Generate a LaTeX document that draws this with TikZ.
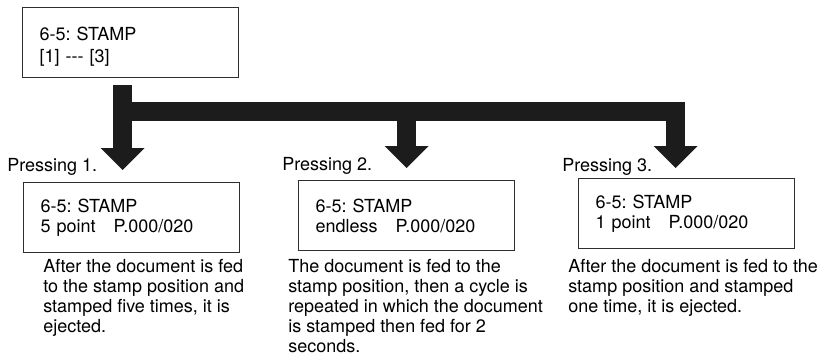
\documentclass[tikz,border=0pt]{standalone}
\usepackage{fontspec}
\setmainfont{TeX Gyre Heros}
\usetikzlibrary{
  arrows.meta,
  positioning,
  calc
}
\definecolor{inkblack}{HTML}{1C1C1C}
\definecolor{framegray}{HTML}{2E2E2E}
\frenchspacing

\begin{document}
\begin{tikzpicture}[
    x=0.75pt, y=-0.75pt,
    every node/.style={font=\fontsize{13.5}{15}\selectfont},
    lcd/.style={rectangle, draw=framegray, line width=1pt, anchor=north west,
                minimum width=162pt, minimum height=52.5pt, text width=136.5pt,
                inner xsep=12.75pt, inner ysep=0pt, align=left},
    caption/.style={anchor=base west, inner sep=0pt},
    note/.style={anchor=north west, inner sep=0pt, align=left},
    fatline/.style={line width=14pt, draw=inkblack},
    fatarrow/.style={fatline, -{Triangle[width=32pt, length=16.5pt]}},
]
\useasboundingbox (0,0) rectangle (827,362);

% --- Row 1: Menu display ---
\node[lcd, font=\fontsize{13.5}{17}\selectfont] (menu) at (22,7)
    {\rule{0pt}{16pt}6-5: STAMP\\{}[1] -{}-{}- [3]};

% --- Row 2: Captions ---
\node[caption] (pressA) at (7,171) {Pressing 1.};
\node[caption] (pressB) at (282,170) {Pressing 2.};
\node[caption] (pressC) at (562,171) {Pressing 3.};

% --- Row 3: Displays after pressing ---
\node[lcd] (lcdA) at (23,182) {6-5: STAMP\\5 point\quad P.000/020};
\node[lcd] (lcdB) at (298,180) {6-5: STAMP\\endless\quad P.000/020};
\node[lcd] (lcdC) at (578,178) {6-5: STAMP\\1 point\quad P.000/020};

% --- Row 4: Notes ---
\node[note] (noteA) at (43,259) {After the document is fed\\to the stamp position and\\stamped five times, it is\\ejected.};
\node[note] (noteB) at (288,259) {The document is fed to the\\stamp position, then a cycle is\\repeated in which the document\\is stamped then fed for 2\\seconds.};
\node[note] (noteC) at (568,259) {After the document is fed to the\\stamp position and stamped\\one time, it is ejected.};

% --- Fat arrows ---
\coordinate (stemA) at ($(menu.south)+(-8,7)$);
\coordinate (fork) at ($(stemA)+(0,26)$);
\draw[fatarrow] (stemA) -- ($(stemA |- lcdA.north)+(0,-12)$);
\draw[fatarrow] (fork -| lcdB.north) -- ($(lcdB.north)+(0,-12)$);
\draw[fatarrow] (fork) -| ($(lcdC.north)+(-11,-10)$);

\end{tikzpicture}
\end{document}
